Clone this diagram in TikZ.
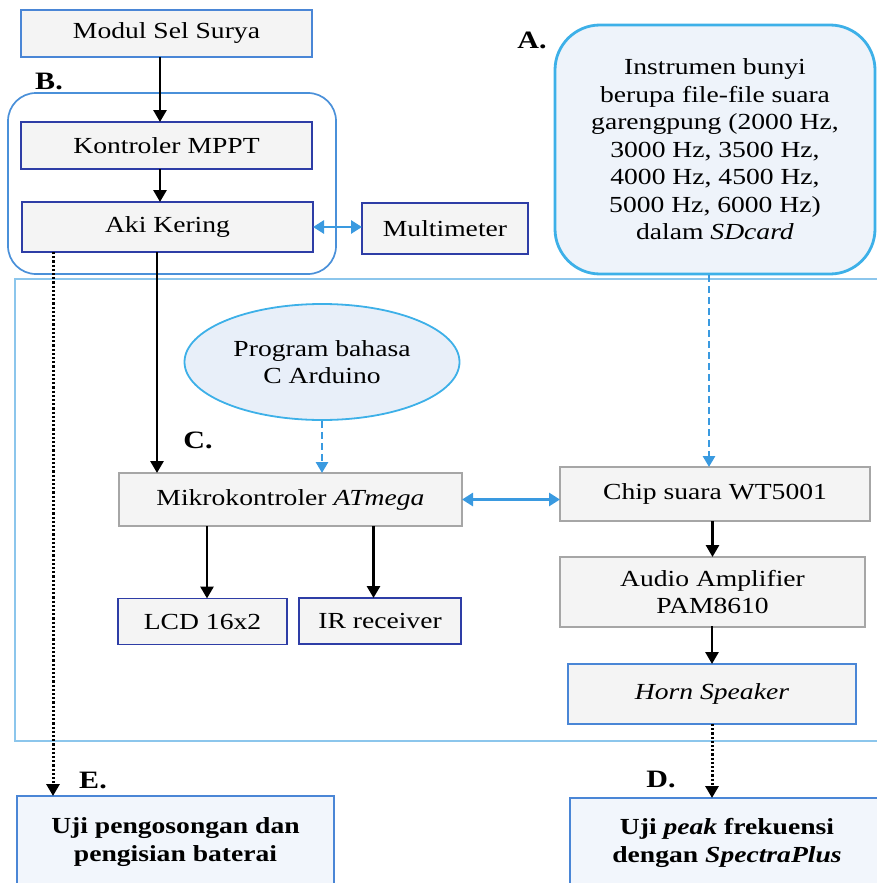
\documentclass[tikz,border=0pt]{standalone}
\usepackage{fontspec}
\setmainfont{Liberation Serif}[FakeStretch=1.2]
\usetikzlibrary{arrows.meta,shapes.geometric}

\definecolor{boxfill}{HTML}{F4F4F4}
\definecolor{navy}{HTML}{2E3DA6}
\definecolor{midblue}{HTML}{4A86D6}
\definecolor{grayedge}{HTML}{A6A6A6}
\definecolor{cyanedge}{HTML}{3DB0E8}
\definecolor{paleblue}{HTML}{EEF3FA}
\definecolor{testfill}{HTML}{F2F6FC}
\definecolor{ellfill}{HTML}{E8EFF9}
\definecolor{arrblue}{HTML}{3A9AE0}
\definecolor{frameblue}{HTML}{8CC6EC}
\definecolor{groupblue}{HTML}{4A90D9}

\begin{document}
\begin{tikzpicture}[x=1pt,y=-1pt,
  font=\fontsize{23}{27.5}\selectfont,
  box/.style={draw, fill=boxfill, line width=1.9pt, inner sep=0pt, outer sep=0pt, align=center},
  navybox/.style={box, draw=navy},
  graybox/.style={box, draw=grayedge},
  testbox/.style={draw=midblue, fill=testfill, line width=2pt, inner sep=0pt, outer sep=0pt, align=center, font=\fontsize{23}{27.5}\selectfont\bfseries},
  lbl/.style={font=\fontsize{25}{30}\selectfont\bfseries, inner sep=0pt},
  blk/.style={-{Triangle[width=13pt,length=12pt]}, line width=2.8pt, black},
  bluedbl/.style={{Triangle[width=13pt,length=11pt]}-{Triangle[width=13pt,length=11pt]}, line width=2.8pt, arrblue},
  bluedash/.style={-{Triangle[width=12pt,length=11pt]}, line width=2.8pt, arrblue, dash pattern=on 7pt off 4pt},
  dotline/.style={-{Triangle[width=13pt,length=12pt]}, line width=3pt, black, dash pattern=on 2.2pt off 2pt}
]
\useasboundingbox (0,0) rectangle (876,883);

% group frames
\node[draw=frameblue, line width=1.6pt, minimum width=865pt, minimum height=462pt, inner sep=0pt] (frame) at (447.5,510) {};
\node[draw=groupblue, line width=1.7pt, rounded corners=28pt, minimum width=328pt, minimum height=181pt, inner sep=0pt] (groupB) at (172,183.5) {};

% top left chain
\node[box, draw=midblue, minimum width=291pt, minimum height=47pt] (modul) at (166.5,33.5) {Modul Sel Surya};
\node[navybox, minimum width=291pt, minimum height=47pt] (kontrol) at (166.5,145.5) {Kontroler MPPT};
\node[navybox, minimum width=291pt, minimum height=50pt] (aki) at (167.5,227) {Aki Kering};
\node[navybox, minimum width=166pt, minimum height=51pt] (multi) at (445,228.5) {Multimeter};

% A box
\node[draw=cyanedge, fill=paleblue, line width=2.8pt, rounded corners=45pt, minimum width=320pt, minimum height=249pt, inner sep=0pt, align=center] (abox) at (715,149.5)
 {Instrumen bunyi\\berupa file-file suara\\garengpung (2000 Hz,\\3000 Hz, 3500 Hz,\\4000 Hz, 4500 Hz,\\5000 Hz, 6000 Hz)\\dalam \textit{SDcard}};

% ellipse
\node[ellipse, draw=cyanedge, fill=ellfill, line width=1.8pt, minimum width=275pt, minimum height=116pt, inner sep=0pt, align=center] (prog) at (322,362) {Program bahasa\\C Arduino};

% middle
\node[graybox, minimum width=343pt, minimum height=53pt] (mikro) at (290.5,499.5) {Mikrokontroler \textit{ATmega}};
\node[navybox, minimum width=169pt, minimum height=46pt] (lcd) at (202.5,621.5) {LCD 16x2};
\node[navybox, minimum width=162pt, minimum height=46pt] (ir) at (380,621) {IR receiver};

% right chain
\node[graybox, minimum width=310pt, minimum height=54pt] (chip) at (715,494) {Chip suara WT5001};
\node[graybox, minimum width=305pt, minimum height=70pt] (audio) at (712.5,592) {Audio Amplifier\\PAM8610};
\node[box, draw=midblue, minimum width=288pt, minimum height=60pt] (horn) at (712,694) {\textit{Horn Speaker}};

% test boxes
\node[testbox, minimum width=317pt, minimum height=92pt] (ebox) at (175.5,842) {Uji pengosongan dan\\pengisian baterai};
\node[testbox, minimum width=314pt, minimum height=90pt] (dbox) at (727,843) {Uji \textit{peak} frekuensi\\dengan \textit{SpectraPlus}};

% labels
\node[lbl] (la) at (532,40) {A.};
\node[lbl] (lb) at (49,81) {B.};
\node[lbl] (lc) at (198,440) {C.};
\node[lbl] (ld) at (661,779) {D.};
\node[lbl] (le) at (93,780) {E.};

% connectors
\draw[blk] ([xshift=-6.5pt]modul.south) -- ([xshift=-6.5pt]kontrol.north);
\draw[blk] ([xshift=-6.5pt]kontrol.south) -- ([xshift=-7.5pt]aki.north);
\draw[bluedbl] (aki.east) -- (aki.east -| multi.west);

\coordinate (akiout) at ([xshift=-10.5pt]aki.south);
\draw[blk] (akiout) -- (akiout |- mikro.north);
\coordinate (akidot) at ([xshift=31pt]aki.south west);
\draw[dotline] (akidot) -- (akidot |- ebox.north);

\draw[bluedash] (prog.south) -- (prog.south |- mikro.north);
\coordinate (aout) at ([xshift=-6pt]abox.south);
\draw[bluedash] (aout) -- (aout |- chip.north);

\draw[bluedbl] (mikro.east) -- (mikro.east -| chip.west);

\coordinate (m1) at ([xshift=4.5pt]lcd.north |- mikro.south);
\draw[blk] (m1) -- (m1 |- lcd.north);
\coordinate (m2) at ([xshift=-6.5pt]ir.north |- mikro.south);
\draw[blk] (m2) -- (m2 |- ir.north);

\draw[blk] (audio.north |- chip.south) -- (audio.north);
\draw[blk] (audio.south) -- (audio.south -| horn.north) -- (horn.north);
\draw[dotline] (horn.south) -- (horn.south |- dbox.north);
\end{tikzpicture}
\end{document}
